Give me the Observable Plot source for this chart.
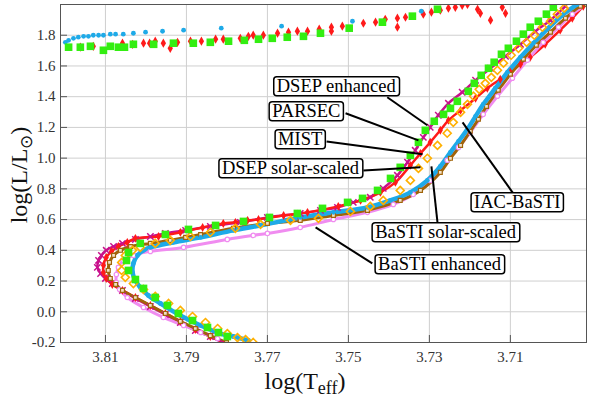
<!DOCTYPE html>
<html><head><meta charset="utf-8">
<script src="https://cdn.jsdelivr.net/npm/d3@7"></script>
<script src="https://cdn.jsdelivr.net/npm/@observablehq/plot@0.6"></script>
<style>
body{margin:0;background:#fff;}
#chart{width:591px;height:397px;}
</style></head><body><div id="chart"></div>
<script>
// axes
const xTicks = [3.81, 3.79, 3.77, 3.75, 3.73, 3.71];
const yTicks = [-0.2, 0, 0.2, 0.4, 0.6, 0.8, 1.0, 1.2, 1.4, 1.6, 1.8];
const xDomain = [3.8211, 3.6912];
const yDomain = [-0.2, 2.0];

// isochrones [logTeff, logL]
const dsepEnhanced = [[3.7811,-0.200],[3.7841,-0.161],[3.7878,-0.122],[3.7915,-0.070],[3.7952,-0.018],[3.7989,0.034],[3.8026,0.087],[3.8058,0.139],[3.8083,0.184],[3.8100,0.217],[3.8112,0.249],[3.8120,0.289],[3.8117,0.334],[3.8110,0.367],[3.8098,0.400],[3.8080,0.425],[3.8058,0.445],[3.8026,0.471],[3.7989,0.490],[3.7952,0.510],[3.7902,0.530],[3.7841,0.556],[3.7767,0.582],[3.7700,0.614],[3.7619,0.640],[3.7569,0.660],[3.7527,0.679],[3.7488,0.712],[3.7446,0.745],[3.7414,0.803],[3.7379,0.888],[3.7354,0.973],[3.7335,1.051],[3.7315,1.135],[3.7298,1.201],[3.7278,1.279],[3.7253,1.357],[3.7219,1.429],[3.7186,1.507],[3.7149,1.585],[3.7112,1.663],[3.7075,1.741],[3.7038,1.826],[3.7001,1.898],[3.6964,1.989]];
const mist = [[3.7804,-0.200],[3.7841,-0.161],[3.7878,-0.115],[3.7915,-0.063],[3.7952,-0.011],[3.7989,0.041],[3.8026,0.093],[3.8058,0.139],[3.8083,0.178],[3.8098,0.217],[3.8105,0.256],[3.8105,0.302],[3.8098,0.354],[3.8085,0.393],[3.8068,0.425],[3.8046,0.452],[3.8026,0.478],[3.7969,0.490],[3.7915,0.517],[3.7860,0.549],[3.7809,0.575],[3.7779,0.582],[3.7749,0.595],[3.7722,0.601],[3.7660,0.627],[3.7601,0.647],[3.7525,0.686],[3.7470,0.725],[3.7421,0.777],[3.7384,0.842],[3.7347,0.953],[3.7322,1.031],[3.7298,1.103],[3.7273,1.181],[3.7253,1.246],[3.7223,1.311],[3.7186,1.390],[3.7157,1.455],[3.7125,1.513],[3.7100,1.559],[3.7075,1.611],[3.7051,1.657],[3.7014,1.741],[3.6977,1.833],[3.6947,1.911],[3.6920,1.989]];
const parsec = [[3.7799,-0.161],[3.7821,-0.135],[3.7848,-0.102],[3.7885,-0.057],[3.7920,-0.011],[3.7947,0.041],[3.7977,0.093],[3.8006,0.152],[3.8026,0.210],[3.8043,0.269],[3.8048,0.334],[3.8043,0.386],[3.8014,0.445],[3.7952,0.503],[3.7895,0.536],[3.7828,0.562],[3.7759,0.588],[3.7695,0.614],[3.7626,0.640],[3.7564,0.673],[3.7502,0.712],[3.7465,0.738],[3.7428,0.790],[3.7396,0.868],[3.7372,0.940],[3.7347,1.018],[3.7327,1.103],[3.7310,1.181],[3.7288,1.240],[3.7265,1.285],[3.7248,1.324],[3.7231,1.370],[3.7204,1.435],[3.7189,1.487],[3.7172,1.539],[3.7154,1.585],[3.7140,1.624],[3.7122,1.676],[3.7105,1.715],[3.7085,1.761],[3.7068,1.807],[3.7051,1.852],[3.7031,1.891],[3.7011,1.937],[3.6994,1.982]];
const dsepSolar = [[3.7735,-0.200],[3.7754,-0.181],[3.7774,-0.168],[3.7799,-0.142],[3.7823,-0.109],[3.7853,-0.070],[3.7885,-0.031],[3.7915,0.009],[3.7944,0.054],[3.7977,0.100],[3.8006,0.145],[3.8031,0.184],[3.8051,0.224],[3.8060,0.269],[3.8060,0.321],[3.8051,0.367],[3.8033,0.400],[3.8014,0.419],[3.7977,0.445],[3.7940,0.465],[3.7890,0.490],[3.7841,0.517],[3.7779,0.543],[3.7717,0.569],[3.7643,0.595],[3.7574,0.608],[3.7495,0.653],[3.7446,0.686],[3.7414,0.725],[3.7372,0.790],[3.7347,0.855],[3.7327,0.933],[3.7305,0.999],[3.7280,1.083],[3.7256,1.162],[3.7241,1.233],[3.7223,1.298],[3.7206,1.350],[3.7191,1.403],[3.7177,1.448],[3.7162,1.487],[3.7147,1.526],[3.7132,1.572],[3.7117,1.618],[3.7098,1.670],[3.7080,1.715],[3.7060,1.754],[3.7041,1.800],[3.7021,1.852],[3.7001,1.891],[3.6984,1.937],[3.6967,1.976]];
const bastiSolar = [[3.7747,-0.187],[3.7784,-0.161],[3.7816,-0.142],[3.7865,-0.089],[3.7915,-0.024],[3.7964,0.054],[3.7994,0.106],[3.8014,0.159],[3.8026,0.204],[3.8033,0.256],[3.8031,0.315],[3.8021,0.367],[3.8006,0.400],[3.7989,0.419],[3.7932,0.452],[3.7865,0.484],[3.7784,0.530],[3.7717,0.562],[3.7619,0.614],[3.7537,0.647],[3.7453,0.679],[3.7396,0.725],[3.7347,0.777],[3.7305,0.855],[3.7273,0.946],[3.7248,1.038],[3.7228,1.109],[3.7206,1.188],[3.7186,1.272],[3.7167,1.350],[3.7137,1.455],[3.7107,1.559],[3.7075,1.657],[3.7043,1.748],[3.7009,1.839],[3.6972,1.930],[3.6935,2.000]];
const bastiEnhanced = [[3.7823,-0.174],[3.7865,-0.135],[3.7907,-0.089],[3.7957,-0.037],[3.8006,0.028],[3.8046,0.093],[3.8065,0.145],[3.8073,0.191],[3.8073,0.243],[3.8068,0.289],[3.8056,0.334],[3.8031,0.367],[3.7989,0.393],[3.7907,0.419],[3.7799,0.471],[3.7735,0.497],[3.7700,0.510],[3.7619,0.549],[3.7537,0.601],[3.7453,0.647],[3.7389,0.699],[3.7340,0.764],[3.7298,0.855],[3.7256,0.986],[3.7228,1.070],[3.7199,1.168],[3.7167,1.285],[3.7132,1.403],[3.7095,1.520],[3.7058,1.637],[3.7019,1.754],[3.6981,1.852],[3.6947,1.937],[3.6912,2.000]];
const iacBasti = [[3.7801,-0.200],[3.7841,-0.155],[3.7878,-0.109],[3.7915,-0.063],[3.7952,-0.011],[3.7989,0.041],[3.8026,0.093],[3.8058,0.139],[3.8075,0.178],[3.8088,0.217],[3.8093,0.269],[3.8090,0.321],[3.8080,0.367],[3.8063,0.400],[3.8038,0.425],[3.7989,0.445],[3.7940,0.465],[3.7902,0.484],[3.7865,0.503],[3.7784,0.543],[3.7700,0.575],[3.7619,0.595],[3.7537,0.627],[3.7453,0.660],[3.7372,0.725],[3.7322,0.790],[3.7273,0.907],[3.7248,0.999],[3.7223,1.083],[3.7199,1.175],[3.7179,1.253],[3.7159,1.337],[3.7130,1.442],[3.7100,1.546],[3.7068,1.644],[3.7036,1.735],[3.7001,1.820],[3.6964,1.911],[3.6927,1.989],[3.6912,2.000]];
// horizontal-branch points
const bastiSolarHB = [[3.8199,1.754],[3.8191,1.767],[3.8179,1.780],[3.8167,1.787],[3.8154,1.793],[3.8142,1.793],[3.8130,1.800],[3.8117,1.800],[3.8105,1.800],[3.8088,1.807],[3.8075,1.807],[3.8056,1.807],[3.8031,1.813],[3.8001,1.820],[3.7959,1.826],[3.7907,1.833],[3.7814,1.846],[3.7665,1.859],[3.7490,1.891],[3.7320,1.956]];
const parsecHB = [[3.8191,1.722],[3.8162,1.722],[3.8137,1.728],[3.8105,1.702],[3.8088,1.728],[3.8068,1.722],[3.8053,1.722],[3.8031,1.741],[3.7981,1.741],[3.7932,1.748],[3.7883,1.748],[3.7841,1.754],[3.7796,1.761],[3.7757,1.767],[3.7722,1.774],[3.7688,1.780],[3.7651,1.787],[3.7611,1.793],[3.7569,1.813],[3.7498,1.846],[3.7416,1.885],[3.7342,1.924],[3.7280,1.969]];
const mistHB = [[3.8162,1.722],[3.8130,1.728],[3.8058,1.748],[3.8033,1.741],[3.8006,1.748],[3.7991,1.748],[3.7977,1.761],[3.7957,1.748],[3.7940,1.715],[3.7922,1.754],[3.7890,1.761],[3.7863,1.761],[3.7828,1.774],[3.7809,1.774],[3.7767,1.780],[3.7747,1.793],[3.7735,1.800],[3.7710,1.800],[3.7675,1.813],[3.7648,1.820],[3.7626,1.826],[3.7601,1.826],[3.7572,1.839],[3.7542,1.852],[3.7542,1.826],[3.7515,1.859],[3.7463,1.878],[3.7433,1.885],[3.7409,1.904],[3.7379,1.911],[3.7379,1.852],[3.7359,1.917],[3.7315,1.937],[3.7295,1.950],[3.7273,1.963],[3.7253,1.976],[3.7236,1.982],[3.7219,1.995],[3.7206,2.000],[3.7181,1.969],[3.7174,1.943],[3.7149,1.898],[3.7120,1.982],[3.7112,1.943]];

// labels and leader lines
const labelNames = ["DSEP enhanced", "PARSEC", "MIST", "DSEP solar-scaled", "IAC-BaSTI", "BaSTI solar-scaled", "BaSTI enhanced"];
const labelT = [3.7530, 3.7604, 3.7619, 3.7643, 3.7083, 3.7260, 3.7275];
const labelL = [1.468, 1.305, 1.122, 0.934, 0.712, 0.517, 0.308];
const leaderFromT = [3.7404, 3.7507, 3.7554, 3.7463, 3.7093, 3.7280, 3.7441];
const leaderFromL = [1.396, 1.292, 1.109, 0.920, 0.771, 0.582, 0.315];
const leaderToT = [3.7305, 3.7327, 3.7317, 3.7322, 3.7218, 3.7295, 3.7581];
const leaderToL = [1.214, 1.116, 1.025, 0.940, 1.233, 0.947, 0.549];

const rows = a => a.map(([T, L]) => ({T, L}));
const serif = "Liberation Serif, Times New Roman, serif";

const C = {mag: "#c8108c", red: "#ff1a1a", green: "#33ee11", orange: "#ffb000", cyan: "#1eaae8", pink: "#f08cf0", brown: "#a0640a"};

const leaders = labelNames.map((n, i) => ({x1: leaderFromT[i], y1: leaderFromL[i], x2: leaderToT[i], y2: leaderToL[i]}));
const labels = labelNames.map((n, i) => ({name: n, T: labelT[i], L: labelL[i]}));

const W = 591, H = 397, mL = 60, mR = 5, mT = 4, mB = 55;

const plot = Plot.plot({
  width: W, height: H,
  marginLeft: mL, marginRight: mR, marginTop: mT, marginBottom: mB,
  style: {fontFamily: serif, fontSize: "15px", color: "#333", background: "white"},
  x: {domain: xDomain},
  y: {domain: yDomain},
  marks: [
    Plot.gridX(xTicks, {stroke: "#cfcfcf", strokeOpacity: 1}),
    Plot.gridY(yTicks, {stroke: "#cfcfcf", strokeOpacity: 1}),
    // dense tracks as bands
    Plot.line(rows(dsepEnhanced), {x: "T", y: "L", stroke: C.mag, strokeWidth: 2.5, curve: "catmull-rom", clip: true}),
    Plot.line(rows(mist), {x: "T", y: "L", stroke: C.red, strokeWidth: 2.5, curve: "catmull-rom", clip: true}),
    Plot.line(rows(bastiEnhanced), {x: "T", y: "L", stroke: C.pink, strokeWidth: 3, curve: "catmull-rom", clip: true}),
    Plot.line(rows(iacBasti), {x: "T", y: "L", stroke: C.brown, strokeWidth: 3, curve: "catmull-rom", clip: true}),
    Plot.line(rows(bastiSolar), {x: "T", y: "L", stroke: C.cyan, strokeWidth: 4.5, curve: "catmull-rom", clip: true}),
    // markers
    Plot.dot(rows(dsepEnhanced), {x: "T", y: "L", symbol: "times", r: 3, stroke: C.mag, strokeWidth: 1.5, clip: true}),
    Plot.dot(rows(mist), {x: "T", y: "L", symbol: "diamond", r: 2.7, fill: C.red, clip: true}),
    Plot.dot(rows(mistHB), {x: "T", y: "L", symbol: "diamond", r: 2.8, fill: C.red, clip: true}),
    Plot.dot(rows(bastiEnhanced), {x: "T", y: "L", symbol: "circle", r: 2.2, stroke: C.pink, strokeWidth: 1.2, fill: "white", clip: true}),
    Plot.dot(rows(iacBasti), {x: "T", y: "L", symbol: "square", r: 2.2, stroke: C.brown, strokeWidth: 1.2, fill: "#f3e2c8", clip: true}),
    Plot.dot(rows(bastiSolar), {x: "T", y: "L", symbol: "circle", r: 2.4, fill: C.cyan, clip: true}),
    Plot.dot(rows(bastiSolarHB), {x: "T", y: "L", symbol: "circle", r: 2.4, fill: C.cyan, clip: true}),
    Plot.dot(rows(dsepSolar), {x: "T", y: "L", symbol: "diamond2", r: 3.6, stroke: C.orange, strokeWidth: 1.6, clip: true}),
    Plot.dot(rows(parsec), {x: "T", y: "L", symbol: "square", r: 4.3, fill: C.green, clip: true}),
    Plot.dot(rows(parsecHB), {x: "T", y: "L", symbol: "square", r: 4.3, fill: C.green, clip: true}),
    // inner ticks
    Plot.ruleX(xTicks, {stroke: "#555", insetTop: H - mT - mB - 7}),
    Plot.ruleY(yTicks, {stroke: "#555", insetRight: W - mL - mR - 7}),
    Plot.axisX(xTicks, {anchor: "bottom", tickSize: 0, tickPadding: 9, tickFormat: d => d.toFixed(2), label: null, fontSize: 15}),
    Plot.axisY(yTicks, {anchor: "left", tickSize: 0, tickPadding: 5, tickFormat: d => d.toFixed(1), label: null, fontSize: 15}),
    Plot.frame({stroke: "#555"}),
    // leaders and labels
    Plot.link(leaders, {x1: "x1", y1: "y1", x2: "x2", y2: "y2", stroke: "black", strokeWidth: 2}),
    Plot.text(labels, {x: "T", y: "L", text: "name", fontSize: 18.5, fontFamily: serif, fill: "black"})
  ]
});

document.getElementById("chart").append(plot);

// boxes behind label text
const svg = d3.select(plot);
svg.selectAll('g[aria-label="text"] text').each(function () {
  const b = this.getBBox();
  const r = document.createElementNS("http://www.w3.org/2000/svg", "rect");
  r.setAttribute("x", b.x - 3);
  r.setAttribute("y", b.y + 0.5);
  r.setAttribute("width", b.width + 6);
  r.setAttribute("height", b.height - 1);
  r.setAttribute("rx", 3);
  r.setAttribute("fill", "white");
  r.setAttribute("stroke", "black");
  r.setAttribute("stroke-width", 1.5);
  const t = this.getAttribute("transform");
  if (t) r.setAttribute("transform", t);
  this.parentNode.insertBefore(r, this);
});

// axis titles
const yt = svg.append("text")
  .attr("transform", "translate(27,175) rotate(-90)")
  .attr("text-anchor", "middle")
  .attr("font-family", serif).attr("font-size", 24).attr("fill", "#111");
yt.append("tspan").text("log(L/L");
yt.append("tspan").attr("font-size", 17).attr("dy", 5).text("⊙");
yt.append("tspan").attr("dy", -5).text(")");

const xt = svg.append("text")
  .attr("x", 305).attr("y", 389)
  .attr("text-anchor", "middle")
  .attr("font-family", serif).attr("font-size", 24).attr("fill", "#111");
xt.append("tspan").text("log(T");
xt.append("tspan").attr("font-size", 18).attr("dy", 5).text("eff");
xt.append("tspan").attr("dy", -5).text(")");
</script>
</body></html>
